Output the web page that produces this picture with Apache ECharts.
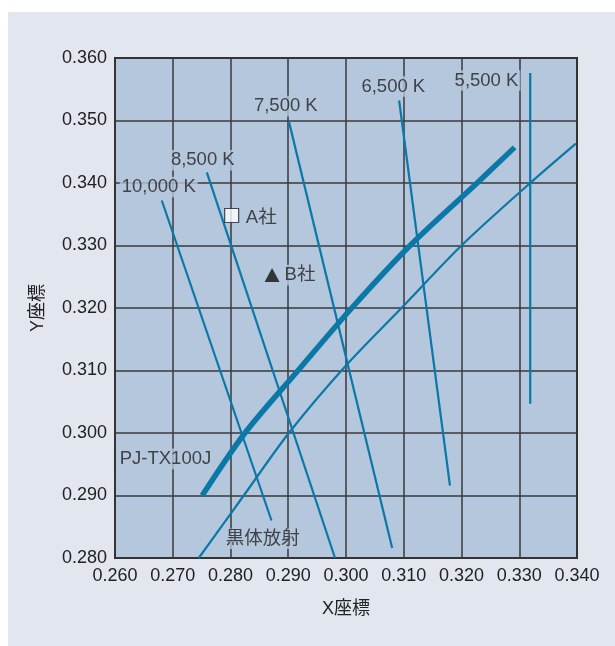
<!DOCTYPE html>
<html><head><meta charset="utf-8">
<script src="https://cdn.jsdelivr.net/npm/echarts@6/dist/echarts.min.js"></script>
<style>
html,body{margin:0;padding:0;background:#fff;}
#panel{position:absolute;left:8px;top:12px;width:607px;height:634px;background:#e1e6ef;}
#c{position:absolute;left:0;top:0;width:615px;height:646px;}
</style></head><body>
<div id="panel"></div>
<div id="c"></div>
<script>
// tick labels
const xTicks = ['0.260','0.270','0.280','0.290','0.300','0.310','0.320','0.330','0.340'];
const yTicks = ['0.280','0.290','0.300','0.310','0.320','0.330','0.340','0.350','0.360'];
// isotemperature lines [x,y]
const iso10000 = [[0.2681,0.3372],[0.2871,0.2860]];
const iso8500  = [[0.2759,0.3417],[0.2981,0.2800]];
const iso7500  = [[0.2901,0.3499],[0.3080,0.2816]];
const iso6500  = [[0.3092,0.3532],[0.3180,0.2916]];
const iso5500  = [[0.3319,0.3576],[0.3319,0.3047]];
// blackbody locus
const blackbody = [[0.2745,0.2800],[0.2823,0.2900],[0.2901,0.3000],[0.3000,0.3108],[0.3096,0.3200],[0.3200,0.3300],[0.3319,0.3400],[0.3398,0.3463]];
// PJ-TX100J
const pj = [[0.2751,0.2900],[0.2825,0.3000],[0.2917,0.3100],[0.3010,0.3200],[0.3111,0.3300],[0.3227,0.3400],[0.3292,0.3457]];
// points
const companyA = [[0.2802,0.3348]];
const companyB = [[0.2872,0.3253]];
// annotation texts and anchors
const labelTexts = ['10,000 K','8,500 K','7,500 K','6,500 K','5,500 K','A社','B社','PJ-TX100J','黒体放射'];
const labelPos = [[0.26757,0.33936],[0.27520,0.34363],[0.28958,0.3523],[0.30819,0.35545],[0.32433,0.35641],[0.28533,0.33441],[0.29203,0.32526],[0.26874,0.29586],[0.28558,0.28308]];

const FONT = "'Liberation Sans','Noto Sans CJK JP',sans-serif";
const LC = '#0b78a8';
const BG = '#b5c7dd';
const chart = echarts.init(document.getElementById('c'), null, {renderer:'canvas'});
function thin(d){return {type:'line',data:d,symbol:'none',silent:true,lineStyle:{color:LC,width:2.2},z:3};}
chart.setOption({
  backgroundColor:'transparent',
  animation:false,
  grid:{left:115,top:58,right:38,bottom:88,show:true,backgroundColor:BG,borderColor:'#222',borderWidth:2},
  xAxis:{type:'value',min:0.26,max:0.34,interval:0.01,
    name:'X座標',nameLocation:'middle',nameGap:42,nameTextStyle:{fontFamily:FONT,fontSize:18,color:'#222'},
    axisLine:{show:false},axisTick:{show:false},
    axisLabel:{fontFamily:FONT,fontSize:18,color:'#222',margin:9,formatter:(v)=>xTicks[Math.round((v-0.26)/0.01)]},
    splitLine:{lineStyle:{color:'#3a3a3a',width:1.5}}},
  yAxis:{type:'value',min:0.28,max:0.36,interval:0.01,
    name:'Y座標',nameLocation:'middle',nameGap:68,nameTextStyle:{fontFamily:FONT,fontSize:18,color:'#222'},
    axisLine:{show:false},axisTick:{show:false},
    axisLabel:{fontFamily:FONT,fontSize:18,color:'#222',margin:8,formatter:(v)=>yTicks[Math.round((v-0.28)/0.01)]},
    splitLine:{lineStyle:{color:'#3a3a3a',width:1.5}}},
  series:[
    thin(iso10000),thin(iso8500),thin(iso7500),thin(iso6500),thin(iso5500),
    Object.assign(thin(blackbody),{smooth:0.3}),
    {type:'line',data:pj,symbol:'none',smooth:0.3,silent:true,lineStyle:{color:LC,width:5.5},z:4},
    {type:'scatter',data:companyA,symbol:'rect',symbolSize:14,itemStyle:{color:'#fff',borderColor:'#222',borderWidth:1.2},z:5},
    {type:'scatter',data:companyB,symbol:'triangle',symbolSize:[15,14],itemStyle:{color:'#111'},z:5},
    {type:'scatter',z:6,symbolSize:0,silent:true,
      data:labelPos.map((p,i)=>({value:p,name:labelTexts[i]})),
      label:{show:true,position:'inside',formatter:(p)=>p.name,fontFamily:FONT,fontSize:18.5,color:'#222',backgroundColor:BG,padding:[1,2]}}
  ]
});
</script>
</body></html>
